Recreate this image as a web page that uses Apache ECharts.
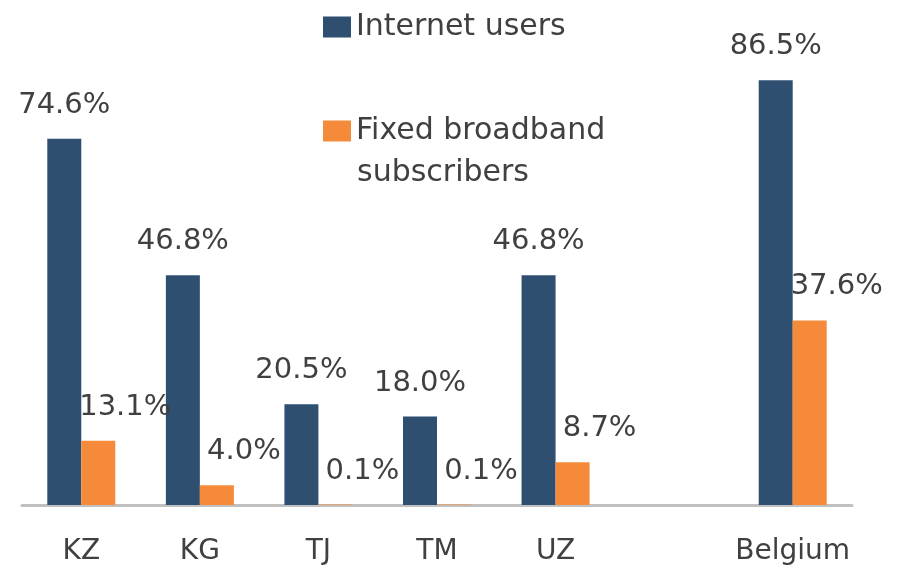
<!DOCTYPE html>
<html>
<head>
<meta charset="utf-8">
<script src="https://cdn.jsdelivr.net/npm/echarts@6/dist/echarts.min.js"></script>
<style>
  html, body { margin: 0; padding: 0; background: #fff; }
  #chart_view { width: 899px; height: 571px; }
</style>
</head>
<body>
<div id="chart_view"></div>
<script type="text/javascript">
  // categories (empty slot between UZ and Belgium)
  var countries = ['KZ', 'KG', 'TJ', 'TM', 'UZ', '', 'Belgium'];
  var internet_users = [74.6, 46.8, 20.5, 18.0, 46.8, '-', 86.5];
  var broadband_subs = [13.1, 4.0, 0.1, 0.1, 8.7, '-', 37.6];

  var textColor = '#404040';
  var font = 'DejaVu Sans';

  function pct(p) {
    return (+p.value).toFixed(1) + '%';
  }

  var myChart = echarts.init(document.getElementById('chart_view'));
  var option = {
    animation: false,
    color: ['#2f4f70', '#f58b3a'],
    title: {
      text: 'subscribers',
      left: 352,
      top: 150,
      textStyle: { fontFamily: font, fontSize: 30, fontWeight: 'normal', color: textColor, lineHeight: 36 }
    },
    legend: [
      {
        data: ['Internet users'],
        left: 318,
        top: 4,
        icon: 'rect',
        itemWidth: 28,
        itemHeight: 21,
        textStyle: { fontFamily: font, fontSize: 30, color: textColor, lineHeight: 36 }
      },
      {
        data: ['Fixed broadband subscribers'],
        left: 318,
        top: 108,
        icon: 'rect',
        itemWidth: 28,
        itemHeight: 21,
        formatter: function () { return 'Fixed broadband'; },
        textStyle: { fontFamily: font, fontSize: 30, color: textColor, lineHeight: 36 }
      }
    ],
    grid: {
      left: 22,
      right: 47,
      top: 14,
      bottom: 66
    },
    xAxis: {
      type: 'category',
      data: countries,
      axisTick: { show: false },
      axisLine: { lineStyle: { color: '#c0c0c0', width: 3 } },
      axisLabel: { interval: 0, fontFamily: font, fontSize: 28, color: textColor, margin: 33 }
    },
    yAxis: {
      type: 'value',
      min: 0,
      max: 100,
      show: false,
      splitLine: { show: false }
    },
    series: [
      {
        name: 'Internet users',
        type: 'bar',
        data: internet_users,
        barWidth: 34,
        barGap: '0%',
        label: {
          show: true,
          position: 'top',
          distance: 19,
          formatter: pct,
          fontFamily: font,
          fontSize: 29,
          color: textColor
        }
      },
      {
        name: 'Fixed broadband subscribers',
        type: 'bar',
        data: broadband_subs,
        barWidth: 34,
        label: {
          show: true,
          position: 'top',
          distance: 19,
          offset: [27, 0],
          formatter: pct,
          fontFamily: font,
          fontSize: 29,
          color: textColor
        }
      }
    ]
  };
  myChart.setOption(option);
</script>
</body>
</html>
